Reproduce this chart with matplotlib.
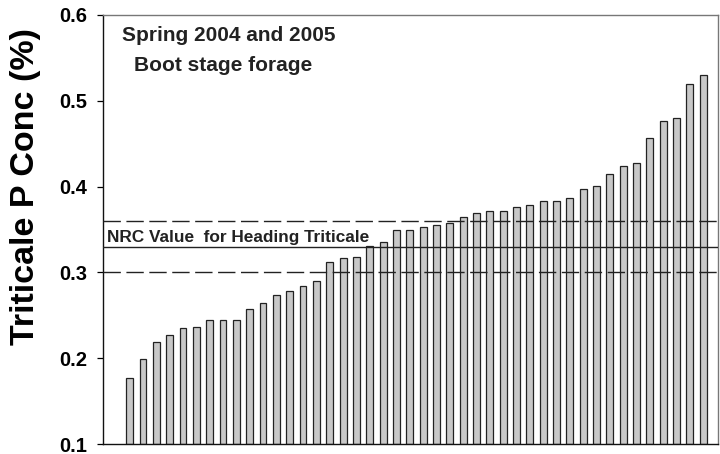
import numpy as np
import matplotlib
matplotlib.use('Agg')
import matplotlib.pyplot as plt

plt.rcParams['font.family'] = ['Liberation Sans', 'DejaVu Sans']

# sorted triticale P concentration (%) at boot stage, spring 2004-2005
p_conc = [0.177, 0.199, 0.219, 0.227, 0.235, 0.236, 0.244, 0.244, 0.244, 0.257,
          0.264, 0.274, 0.278, 0.284, 0.290, 0.312, 0.317, 0.318, 0.331, 0.335,
          0.349, 0.349, 0.353, 0.355, 0.357, 0.365, 0.369, 0.371, 0.371, 0.376,
          0.378, 0.383, 0.383, 0.387, 0.397, 0.401, 0.415, 0.424, 0.428, 0.457,
          0.476, 0.480, 0.520, 0.530]
nrc_value = 0.33
nrc_range = [0.30, 0.36]
y_ticks = [0.1, 0.2, 0.3, 0.4, 0.5, 0.6]

fig = plt.figure(figsize=(7.2, 4.54), dpi=100)
ax = fig.add_axes([0.143, 0.022, 0.854, 0.945])

x = np.arange(len(p_conc))
ax.bar(x, np.array(p_conc) - 0.1, bottom=0.1, width=0.52,
       color='#c8c8c8', edgecolor='#222222', linewidth=0.9, zorder=2)

ax.axhline(nrc_value, color='#222222', linewidth=1.0, zorder=3)
for v in nrc_range:
    ax.axhline(v, color='#222222', linewidth=1.0, dashes=(12.5, 4), zorder=3)

ax.text(-1.7, 0.3355, "NRC Value  for Heading Triticale", fontsize=12.4,
        fontweight='bold', va='baseline', ha='left', color='#222222', zorder=4)
ax.text(-0.55, 0.5756, "Spring 2004 and 2005", fontsize=15,
        fontweight='bold', va='center', ha='left', color='#222222')
ax.text(0.35, 0.5407, "Boot stage forage", fontsize=15,
        fontweight='bold', va='center', ha='left', color='#222222')

ax.set_xlim(-2.0, 44.1)
ax.set_ylim(0.1, 0.6)
ax.set_yticks(y_ticks)
ax.set_yticklabels([f"{t:.1f}" for t in y_ticks], fontsize=14.5, fontweight='bold')
ax.set_xticks([])
ax.tick_params(axis='y', direction='out', length=4.5, width=0.9, pad=7)
ax.set_ylabel("Triticale P Conc (%)", fontsize=24.5, fontweight='bold')
ax.yaxis.set_label_coords(-0.10, 0.60)

for s in ['left', 'bottom']:
    ax.spines[s].set_color('#111111')
for s in ['top', 'right']:
    ax.spines[s].set_color('#777777')
for s in ax.spines.values():
    s.set_linewidth(1.0)

plt.savefig("out.png", dpi=100)
